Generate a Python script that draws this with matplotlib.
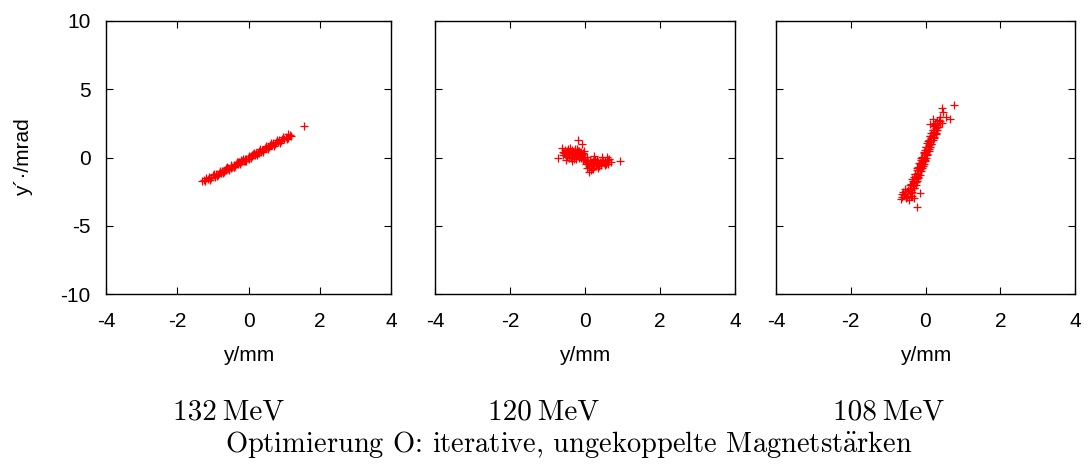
import matplotlib
matplotlib.use("Agg")
import matplotlib.pyplot as plt

plt.rcParams['font.family'] = ['Liberation Sans', 'DejaVu Sans']
plt.rcParams['axes.unicode_minus'] = False
plt.rcParams['mathtext.fontset'] = 'cm'

# 132 MeV
y132 = [-1.30, -1.25, -1.22, -1.15, -1.10, -1.05, -1.00, -0.95, -0.90, -0.86,
        -0.82, -0.78, -0.74, -0.70, -0.66, -0.62, -0.58, -0.54, -0.50, -0.46,
        -0.42, -0.38, -0.34, -0.30, -0.26, -0.22, -0.18, -0.14, -0.10, -0.06,
        -0.02, 0.02, 0.06, 0.10, 0.14, 0.18, 0.22, 0.26, 0.30, 0.34,
        0.38, 0.42, 0.46, 0.50, 0.54, 0.58, 0.62, 0.66, 0.70, 0.74,
        0.78, 0.82, 0.86, 0.90, 0.95, 1.00, 1.05, 1.10, 1.17, 1.55,
        -0.60, -0.40, -0.20, 0.00, 0.20, 0.40, 0.60, -0.50, -0.30, -0.10,
        0.10, 0.30, 0.50,
        -1.18, -1.08, -0.98, -0.88, -0.80, -0.72, -0.64, -0.56, -0.48, -0.40,
        -0.32, -0.24, -0.16, -0.08, 0.00, 0.08, 0.16, 0.24, 0.32, 0.40,
        0.48, 0.56, 0.64, 0.72, 0.80, 0.88, 0.98, 1.08, 1.12, 1.20]
yp132 = [-1.70, -1.62, -1.75, -1.55, -1.45, -1.52, -1.30, -1.40, -1.20, -1.28,
         -1.10, -1.15, -0.98, -1.05, -0.88, -0.95, -0.78, -0.82, -0.66, -0.70,
         -0.55, -0.60, -0.44, -0.48, -0.33, -0.36, -0.22, -0.25, -0.10, -0.14,
         0.00, -0.03, 0.12, 0.08, 0.24, 0.20, 0.36, 0.32, 0.47, 0.42,
         0.58, 0.54, 0.70, 0.66, 0.80, 0.76, 0.92, 0.88, 1.03, 0.98,
         1.14, 1.10, 1.26, 1.20, 1.38, 1.32, 1.50, 1.46, 1.65, 2.30,
         -0.70, -0.66, -0.16, -0.10, 0.34, 0.46, 0.94, -0.80, -0.34, -0.22,
         0.20, 0.36, 0.78,
         -1.52, -1.65, -1.23, -1.37, -0.98, -1.15, -0.76, -0.92, -0.53, -0.70,
         -0.31, -0.48, -0.08, -0.25, 0.14, -0.03, 0.36, 0.20, 0.59, 0.42,
         0.81, 0.64, 1.04, 0.87, 1.26, 1.09, 1.51, 1.37, 1.72, 1.55]

# 120 MeV
y120 = [-0.71, -0.62, -0.19, -0.07, 0.93, 0.11, 0.58, 0.70, 0.65,
        -0.55, -0.50, -0.48, -0.45, -0.42, -0.40, -0.38, -0.35, -0.33, -0.30,
        -0.28, -0.26, -0.24, -0.22, -0.20, -0.18, -0.16, -0.14, -0.12, -0.10,
        -0.08, -0.06, -0.05, -0.03, -0.45, -0.52, -0.36, -0.60,
        0.00, 0.03, 0.05, 0.08, 0.10, 0.12, 0.15, 0.18, 0.20, 0.22,
        0.25, 0.28, 0.30, 0.33, 0.36, 0.40, 0.43, 0.46, 0.50, 0.53,
        0.56, 0.60, 0.15, 0.05, 0.35, 0.45, 0.25,
        -0.58, -0.53, -0.50, -0.47, -0.44, -0.41, -0.37, -0.34, -0.31, -0.29,
        -0.25, -0.21, -0.19, -0.15, -0.13, -0.09, -0.04, -0.02, -0.40, -0.27,
        0.02, 0.06, 0.09, 0.13, 0.17, 0.21, 0.24, 0.27, 0.31, 0.35,
        0.38, 0.42, 0.48, 0.52, 0.58, 0.62, 0.20, 0.10]
yp120 = [0.00, 0.67, 1.28, 0.99, -0.26, -1.04, 0.06, -0.30, -0.10,
         0.30, 0.10, 0.45, 0.25, -0.05, 0.40, 0.15, 0.55, 0.30, 0.05,
         0.45, 0.20, -0.10, 0.60, 0.35, 0.10, 0.45, 0.25, 0.00, 0.40,
         0.15, -0.15, 0.30, 0.05, 0.60, -0.15, -0.25, 0.20,
         -0.20, -0.45, 0.05, -0.30, -0.60, -0.15, -0.40, -0.75, -0.25, -0.50,
         -0.10, -0.35, -0.65, -0.20, -0.45, -0.30, -0.55, -0.15, -0.40, -0.25,
         -0.50, -0.20, -0.90, -0.80, -0.80, 0.05, 0.10,
         0.40, 0.55, 0.25, 0.05, 0.35, 0.50, 0.00, 0.20, 0.42, -0.12,
         0.32, 0.15, 0.50, -0.05, 0.35, 0.22, 0.45, -0.08, 0.70, 0.65,
         -0.35, -0.15, -0.50, -0.30, -0.55, -0.40, -0.65, -0.20, -0.45, -0.30,
         -0.60, -0.40, -0.25, -0.55, -0.35, -0.45, -0.85, -0.75]

# 108 MeV
y108 = [-0.50, -0.40, -0.55, -0.42, -0.35, -0.48, -0.38, -0.30, -0.42, -0.33,
        -0.26, -0.38, -0.30, -0.22, -0.34, -0.26, -0.19, -0.30, -0.22, -0.15,
        -0.27, -0.19, -0.12, -0.23, -0.16, -0.09, -0.20, -0.12, -0.05, -0.16,
        -0.09, -0.02, -0.12, -0.05, 0.02, -0.09, -0.02, 0.05, -0.05, 0.02,
        0.09, -0.02, 0.06, 0.13, 0.02, 0.09, 0.16, 0.05, 0.12, 0.20,
        0.09, 0.16, 0.23, 0.12, 0.20, 0.27, 0.15, 0.23, 0.30, 0.19,
        0.27, 0.34, 0.22, 0.30, 0.38, 0.26,
        0.76, -0.22, 0.43, 0.48, 0.65, 0.12, 0.40, 0.55, -0.64, -0.60,
        -0.65, -0.30, -0.45, -0.55, -0.15, 0.20, 0.35,
        -0.38, -0.47, -0.32, -0.41, -0.26, -0.35, -0.20, -0.29, -0.14, -0.23,
        -0.08, -0.17, -0.02, -0.11, 0.04, -0.05, 0.10, 0.01, 0.16, 0.07,
        0.22, 0.13, 0.28, 0.19, 0.34, 0.25,
        -0.58, -0.52, -0.35, -0.62, 0.38, 0.30, 0.45]
yp108 = [-2.90, -2.80, -2.70, -2.60, -2.50, -2.45, -2.35, -2.25, -2.20, -2.10,
         -2.00, -1.95, -1.85, -1.75, -1.70, -1.60, -1.50, -1.45, -1.35, -1.25,
         -1.20, -1.10, -1.00, -0.95, -0.85, -0.75, -0.70, -0.60, -0.50, -0.45,
         -0.35, -0.25, -0.20, -0.10, 0.00, 0.05, 0.15, 0.25, 0.30, 0.40,
         0.50, 0.55, 0.65, 0.75, 0.80, 0.90, 1.00, 1.05, 1.15, 1.25,
         1.30, 1.40, 1.50, 1.55, 1.65, 1.75, 1.80, 1.90, 2.00, 2.05,
         2.15, 2.25, 2.30, 2.40, 2.55, 2.50,
         3.85, -3.65, 3.60, 3.36, 2.82, 2.43, 3.00, 2.95, -2.87, -2.50,
         -3.05, -3.00, -3.10, -2.30, -2.60, 2.80, 2.75,
         -2.60, -2.40, -2.20, -2.00, -1.80, -1.60, -1.40, -1.20, -1.00, -0.80,
         -0.60, -0.40, -0.20, 0.00, 0.20, 0.40, 0.60, 0.80, 1.00, 1.20,
         1.40, 1.60, 1.80, 2.00, 2.20, 2.40,
         -2.75, -2.95, -2.85, -2.65, 2.65, 2.70, 2.50]

panels = [(y132, yp132, '132\u2009MeV'), (y120, yp120, '120\u2009MeV'), (y108, yp108, '108\u2009MeV')]
xticks = [-4, -2, 0, 2, 4]
yticks = [-10, -5, 0, 5, 10]

fig = plt.figure(figsize=(10.89, 4.66), dpi=100)
lefts = [106, 435, 776]
widths = [285, 300, 299]
captions_x = [229, 544, 889]
cm = ['cmr10', 'DejaVu Serif']

for i, (x, y, cap) in enumerate(panels):
    ax = fig.add_axes([lefts[i] / 1089, 1 - 294 / 466, widths[i] / 1089, 273 / 466])
    ax.plot(x, y, '+', color='red', markersize=5.5, markeredgewidth=0.9)
    ax.set_xlim(-4, 4)
    ax.set_ylim(-10, 10)
    ax.set_xticks(xticks)
    ax.set_yticks(yticks)
    ax.tick_params(direction='in', top=True, right=True, length=5, width=0.8,
                   labelsize=15)
    ax.tick_params(axis='x', pad=13)
    ax.tick_params(axis='y', pad=11)
    for s in ax.spines.values():
        s.set_linewidth(1.0)
    ax.set_xlabel('y/mm', fontsize=15, labelpad=11)
    if i == 0:
        ax.set_ylabel('y\u00b4\u00b7/mrad', fontsize=15, labelpad=20)
    else:
        ax.set_yticklabels([])
    fig.text(captions_x[i] / 1089, 1 - 412 / 466, cap, ha='center', va='center',
             fontsize=21, family=cm)

fig.text(569 / 1089, 1 - 445 / 466, 'Optimierung O: iterative, ungekoppelte Magnetst$\\ddot{\\mathrm{a}}$rken',
         ha='center', va='center', fontsize=20.5, family=cm)

fig.savefig('out.png', dpi=100)
